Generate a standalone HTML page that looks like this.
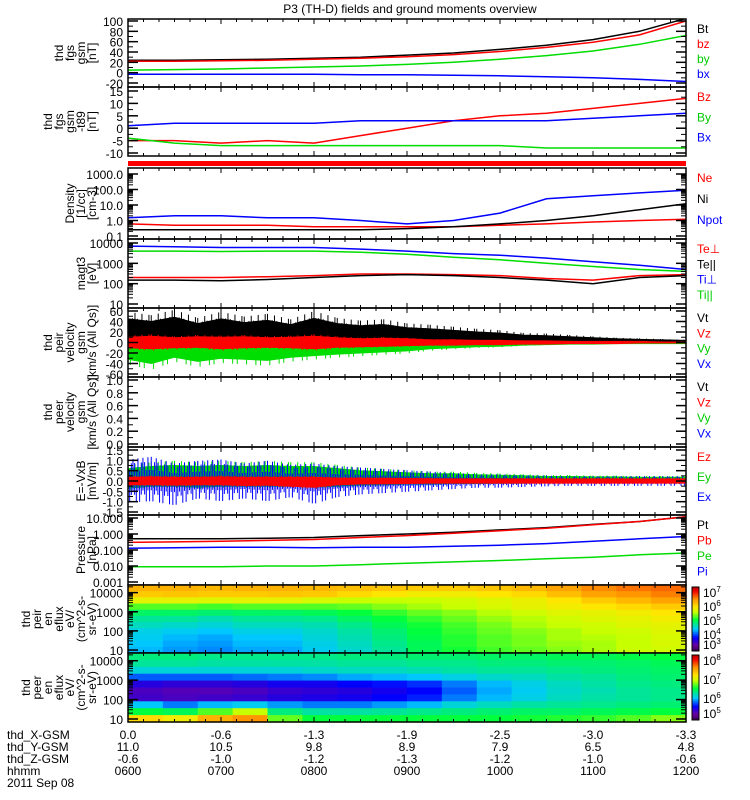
<!DOCTYPE html>
<html><head><meta charset="utf-8"><style>
html,body{margin:0;padding:0;background:#fff}
svg{display:block;font-family:"Liberation Sans",sans-serif}
text{font-size:12px}
</style></head><body>
<svg id="c" width="750" height="800" viewBox="0 0 750 800"></svg>
<script>
// ---------- data ----------
const hours=[6,6.5,7,7.5,8,8.5,9,9.5,10,10.5,11,11.5,12];
const btVals=[24,24,25,26,28,30,34,38,45,53,64,80,105];
const bzVals=[22,22,23,24,26,28,31,35,41,49,59,73,100];
const byVals=[5,6,7,9,11,13,16,20,26,33,42,55,72];
const bxVals=[-3,-3,-3,-3,-3,-4,-4,-5,-6,-8,-10,-13,-17];
const dBz=[-5,-5,-6,-5,-6,-3,0,3,5,6,8,10,12];
const dBy=[-4,-6,-7,-7,-7,-7,-7,-7,-7,-8,-8,-8,-8];
const dBx=[1,2,2,2,2,3,3,3,3,3,4,5,6];
const neVals=[0.6,0.5,0.5,0.5,0.4,0.4,0.4,0.4,0.5,0.6,0.8,1.0,1.2];
const niVals=[0.25,0.25,0.25,0.25,0.25,0.25,0.3,0.4,0.6,1,2,5,12];
const npotVals=[1.5,2,2,1.5,1.5,1.0,0.6,1,3,25,40,60,90];
const tePerp=[7000,6500,6000,6000,6000,5000,4000,3000,2500,1800,1200,800,500];
const tePar=[4000,4000,3800,4000,4000,3500,2800,2000,1500,1000,700,500,400];
const tiPerp=[200,200,200,220,250,300,300,280,250,180,150,250,280];
const tiPar=[150,150,140,160,200,250,280,250,200,150,100,200,250];
const ptVals=[0.5,0.5,0.5,0.55,0.6,0.8,1.0,1.3,1.8,2.5,4,6,12];
const pbVals=[0.3,0.32,0.35,0.4,0.45,0.6,0.8,1.1,1.6,2.3,3.8,6,12];
const peVals=[0.13,0.14,0.15,0.15,0.14,0.15,0.15,0.17,0.2,0.25,0.35,0.5,0.7];
const piVals=[0.009,0.009,0.009,0.01,0.01,0.012,0.015,0.018,0.022,0.028,0.035,0.05,0.065];
const bandTimes=[6,6.25,6.5,6.75,7,7.25,7.5,7.75,8,8.25,8.5,8.75,9,9.25,9.5,9.75,10,10.25,10.5,10.75,11,11.25,11.5,11.75,12];
const vtHi=[45,40,48,36,45,38,42,34,46,36,32,34,28,26,23,20,18,14,13,11,9,7,6,5,4];
const vtLo=[5,3,5,4,5,4,5,4,4,3,3,3,2,2,2,2,2,1,1,1,1,0,0,0,0];
const vzHi=[10,12,9,11,10,11,9,10,12,9,7,8,7,5,5,4,4,3,3,2,2,2,2,1,1];
const vzLo=[-10,-12,-10,-9,-12,-10,-9,-10,-12,-9,-8,-7,-6,-5,-5,-4,-4,-3,-3,-2,-2,-2,-1,-1,-1];
const vyHi=[8,10,7,8,8,7,7,6,7,5,5,4,4,3,3,3,3,2,2,2,1,1,1,1,1];
const vyLo=[-32,-40,-28,-36,-30,-32,-34,-28,-25,-22,-20,-18,-16,-12,-10,-8,-7,-5,-4,-3,-3,-2,-2,-2,-2];
const eyHi=[0.6,0.7,0.75,0.7,0.75,0.7,0.75,0.7,0.7,0.6,0.5,0.45,0.4,0.35,0.35,0.3,0.28,0.25,0.22,0.22,0.2,0.2,0.18,0.18,0.18];
const eyLo=[-0.35,-0.25,-0.25,-0.3,-0.25,-0.25,-0.25,-0.25,-0.3,-0.25,-0.2,-0.18,-0.15,-0.15,-0.12,-0.12,-0.1,-0.1,-0.08,-0.08,-0.08,-0.05,-0.05,-0.05,-0.05];
const exHi=[0.8,0.9,0.65,0.75,0.8,0.65,0.75,0.6,0.65,0.55,0.5,0.45,0.4,0.35,0.3,0.25,0.25,0.22,0.2,0.18,0.18,0.18,0.18,0.18,0.18];
const exLo=[-0.8,-0.75,-0.9,-0.65,-0.75,-0.65,-0.75,-0.6,-0.85,-0.6,-0.5,-0.45,-0.4,-0.35,-0.3,-0.25,-0.25,-0.22,-0.2,-0.18,-0.18,-0.18,-0.18,-0.18,-0.18];
const ezHi=[0.18,0.2,0.18,0.18,0.2,0.18,0.18,0.18,0.18,0.14,0.14,0.13,0.12,0.11,0.1,0.1,0.1,0.1,0.1,0.1,0.1,0.1,0.1,0.1,0.1];
const ezLo=[-0.18,-0.18,-0.2,-0.18,-0.18,-0.22,-0.2,-0.25,-0.3,-0.18,-0.14,-0.13,-0.12,-0.1,-0.1,-0.1,-0.1,-0.1,-0.1,-0.1,-0.1,-0.1,-0.1,-0.1,-0.1];
// spectrogram cells: rows high energy -> low energy, 16 time columns, normalized 0..1
const ionSpec=[
[0.78,0.78,0.77,0.78,0.78,0.77,0.76,0.75,0.74,0.74,0.75,0.77,0.8,0.83,0.85,0.86],
[0.74,0.75,0.74,0.74,0.75,0.74,0.72,0.7,0.68,0.68,0.7,0.72,0.76,0.8,0.82,0.84],
[0.66,0.66,0.65,0.66,0.66,0.64,0.62,0.62,0.62,0.63,0.65,0.67,0.7,0.74,0.77,0.8],
[0.55,0.55,0.54,0.55,0.55,0.55,0.56,0.58,0.6,0.62,0.64,0.66,0.68,0.7,0.72,0.74],
[0.47,0.47,0.46,0.47,0.47,0.48,0.5,0.53,0.56,0.58,0.61,0.63,0.65,0.66,0.68,0.7],
[0.43,0.43,0.41,0.43,0.43,0.44,0.47,0.5,0.53,0.56,0.59,0.61,0.63,0.65,0.66,0.68],
[0.4,0.39,0.38,0.4,0.4,0.41,0.44,0.48,0.51,0.54,0.57,0.6,0.62,0.63,0.65,0.66],
[0.37,0.36,0.35,0.37,0.37,0.39,0.42,0.46,0.5,0.53,0.56,0.58,0.6,0.62,0.63,0.65],
[0.36,0.34,0.33,0.35,0.35,0.38,0.41,0.45,0.49,0.52,0.55,0.57,0.6,0.61,0.62,0.64],
[0.35,0.33,0.32,0.34,0.34,0.37,0.4,0.44,0.48,0.52,0.55,0.57,0.59,0.6,0.62,0.64],
[0.34,0.32,0.31,0.33,0.33,0.36,0.39,0.43,0.48,0.51,0.54,0.56,0.58,0.6,0.62,0.63]];
const eleSpec=[
[0.45,0.45,0.44,0.44,0.44,0.44,0.45,0.45,0.46,0.46,0.47,0.47,0.48,0.48,0.49,0.5],
[0.43,0.43,0.42,0.42,0.42,0.42,0.43,0.43,0.44,0.44,0.45,0.45,0.46,0.46,0.47,0.48],
[0.38,0.38,0.38,0.38,0.38,0.39,0.4,0.4,0.41,0.42,0.43,0.43,0.44,0.45,0.46,0.47],
[0.28,0.28,0.28,0.29,0.3,0.31,0.33,0.34,0.35,0.37,0.39,0.4,0.42,0.43,0.45,0.46],
[0.18,0.17,0.17,0.18,0.2,0.2,0.22,0.23,0.25,0.3,0.34,0.37,0.4,0.42,0.44,0.45],
[0.14,0.13,0.13,0.14,0.16,0.17,0.18,0.2,0.22,0.28,0.33,0.36,0.39,0.41,0.43,0.44],
[0.15,0.14,0.15,0.16,0.18,0.19,0.2,0.22,0.24,0.3,0.34,0.37,0.4,0.42,0.43,0.44],
[0.35,0.3,0.34,0.36,0.32,0.3,0.3,0.32,0.34,0.38,0.4,0.42,0.43,0.44,0.45,0.46],
[0.5,0.48,0.55,0.62,0.45,0.42,0.42,0.43,0.44,0.45,0.46,0.47,0.47,0.48,0.49,0.5],
[0.72,0.68,0.78,0.82,0.56,0.5,0.5,0.5,0.5,0.5,0.5,0.51,0.52,0.53,0.55,0.58]];
const hourLabels=["0600","0700","0800","0900","1000","1100","1200"];
const xGsm=["0.0","-0.6","-1.3","-1.9","-2.5","-3.0","-3.3"];
const yGsm=["11.0","10.5","9.8","8.9","7.9","6.5","4.8"];
const zGsm=["-0.6","-1.0","-1.2","-1.3","-1.2","-1.0","-0.6"];

// ---------- helpers ----------
const NS="http://www.w3.org/2000/svg";
const svg=document.getElementById('c');
const X0=128,X1=686;
function el(tag,attrs,parent){const e=document.createElementNS(NS,tag);for(const k in attrs)e.setAttribute(k,attrs[k]);(parent||svg).appendChild(e);return e;}
function xs(t){return X0+(t-6)/6*(X1-X0);}
function linScale(lo,hi,top,bot){return v=>bot-(v-lo)/(hi-lo)*(bot-top);}
function logScale(lo,hi,top,bot){return v=>bot-(Math.log10(v)-Math.log10(lo))/(Math.log10(hi)-Math.log10(lo))*(bot-top);}
function txt(s,x,y,attrs,parent){const t=el('text',Object.assign({x:x,y:y},attrs||{}),parent);t.textContent=s;return t;}
const defs=el('defs',{});
let clipN=0;
function clipFor(p){const id='cl'+(clipN++);const cp=el('clipPath',{id:id},defs);el('rect',{x:X0,y:p.top,width:X1-X0,height:p.bot-p.top},cp);return 'url(#'+id+')';}

const panels=[
 {top:19,bot:87},{top:87,bot:156},{top:168,bot:239},{top:239,bot:308},{top:308,bot:377},
 {top:377,bot:447},{top:447,bot:515},{top:515,bot:585},{top:585,bot:653},{top:653,bot:722}];

function frame(p,name){
 const g=el('g',{},svg);
 
 
 el('rect',{x:X0,y:p.top,width:X1-X0,height:p.bot-p.top,fill:'none',stroke:'#000','stroke-width':1.5},g);
 for(let m=0;m<=36;m++){const x=xs(6+m/6);const L=(m%6==0)?5:3;
  el('line',{x1:x,y1:p.top,x2:x,y2:p.top+L,stroke:'#000'},g);
  el('line',{x1:x,y1:p.bot,x2:x,y2:p.bot-L,stroke:'#000'},g);}
 return g;
}
function yTicks(g,ys,majors,minors,labels,p){
 majors.forEach((v,i)=>{const y=ys(v);if(y<p.top-2||y>p.bot+2)return;
  el('line',{x1:X0,y1:y,x2:X0+10,y2:y,stroke:'#000','stroke-width':1.5},g);
  el('line',{x1:X1,y1:y,x2:X1-10,y2:y,stroke:'#000','stroke-width':1.5},g);
  const t=txt(labels[i],123,y+5,{'text-anchor':'end','font-size':'13'},g);
  
  });
 minors.forEach(v=>{const y=ys(v);if(y<p.top||y>p.bot)return;
  el('line',{x1:X0,y1:y,x2:X0+5,y2:y,stroke:'#000'},g);
  el('line',{x1:X1,y1:y,x2:X1-5,y2:y,stroke:'#000'},g);});
}
function logMinors(lo,hi){const r=[];for(let d=lo;d<hi*0.99;d*=10)for(let k=2;k<10;k++)r.push(d*k);return r;}
function line(vals,ys,color,name,p){
 const pts=vals.map((v,i)=>xs(hours[i]).toFixed(1)+','+ys(v).toFixed(1)).join(' ');
 const l=el('polyline',{points:pts,fill:'none',stroke:color,'stroke-width':1.5,'clip-path':clipFor(p)});
 
 
}
function band(hi,lo,ys,color,name,p,spikesOnly){
 const g=el('g',{'clip-path':clipFor(p)});
 
 
 if(!spikesOnly){
  const a=hi.map((v,i)=>xs(bandTimes[i]).toFixed(1)+','+ys(v).toFixed(1));
  const b=lo.map((v,i)=>xs(bandTimes[i]).toFixed(1)+','+ys(v).toFixed(1)).reverse();
  el('polygon',{points:a.concat(b).join(' '),fill:color,stroke:color,'stroke-width':1},g);
 }
 const n=spikesOnly?14:10;
 for(let i=0;i<bandTimes.length-1;i++){for(let k=0;k<n;k++){const f=k/n;const t=bandTimes[i]+f*0.25;
  const h=hi[i]+(hi[i+1]-hi[i])*f, l=lo[i]+(lo[i+1]-lo[i])*f; const s=(k%3==0)?1.3:(k%2?0.6:1.05);
  el('line',{x1:xs(t),y1:ys(h*s),x2:xs(t),y2:ys(l*(1.9-s)),stroke:color,'stroke-width':1},g);}}
}
function sideLabels(p,items){items.forEach((it,i)=>{const y=p.top+14+i*((p.bot-p.top-8)/items.length);
 const t=txt(it[0],697,y,{fill:it[1],'font-size':'12'});
 
 });}
function leftLabel(p,lines){const cy=(p.top+p.bot)/2;const n=lines.length;
 lines.forEach((s,i)=>{const x=96-(n-1-i)*11;
  const t=txt(s,x,cy,{'text-anchor':'middle','font-size':'12',transform:'rotate(-90 '+x+' '+cy+')'});
  
  });}
function rainbow(v){v=Math.max(0,Math.min(1,v));
 const st=[[0,[40,0,60]],[0.1,[110,0,160]],[0.22,[0,0,255]],[0.35,[0,200,255]],[0.5,[0,255,60]],[0.62,[200,255,0]],[0.7,[255,230,0]],[0.82,[255,150,0]],[0.95,[240,0,0]],[1,[200,0,0]]];
 for(let i=1;i<st.length;i++)if(v<=st[i][0]){const a=st[i-1],b=st[i],f=(v-a[0])/(b[0]-a[0]);
  return 'rgb('+a[1].map((c,j)=>Math.round(c+(b[1][j]-c)*f)).join(',')+')';}
 return 'rgb(200,0,0)';}

const ti=txt('P3 (TH-D) fields and ground moments overview',410,13,{'text-anchor':'middle','font-size':'13'});



{const p=panels[0];const ys=linScale(-20,100,21,83);
 line(btVals,ys,'#000','bt-line',p);line(bzVals,ys,'#f00','bz-line',p);line(byVals,ys,'#0d0','by-line',p);line(bxVals,ys,'#00f','bx-line',p);
 const g=frame(p,'fgs-gsm');yTicks(g,ys,[-20,0,20,40,60,80,100],[-10,10,30,50,70,90],['-20','0','20','40','60','80','100'],p);
 sideLabels(p,[['Bt','#000'],['bz','#f00'],['by','#0c0'],['bx','#00f']]);leftLabel(p,['thd','fgs','gsm','[nT]']);}
{const p=panels[1];const ys=linScale(-10,15,91,153);
 line(dBz,ys,'#f00','dbz-line',p);line(dBy,ys,'#0d0','dby-line',p);line(dBx,ys,'#00f','dbx-line',p);
 const g=frame(p,'fgs-t89');yTicks(g,ys,[-10,-5,0,5,10,15],[-7.5,-2.5,2.5,7.5,12.5],['-10','-5','0','5','10','15'],p);
 sideLabels(p,[['Bz','#f00'],['By','#0c0'],['Bx','#00f']]);leftLabel(p,['thd','fgs','gsm','-t89','[nT]']);}
{const r=el('rect',{x:X0,y:161,width:X1-X0,height:5,fill:'#f00'});}
{const p=panels[2];const ys=logScale(0.1,1000,174,236);
 line(neVals,ys,'#f00','ne-line',p);line(niVals,ys,'#000','ni-line',p);line(npotVals,ys,'#00f','npot-line',p);
 const g=frame(p,'density');yTicks(g,ys,[0.1,1,10,100,1000],logMinors(0.1,1000),['0.1','1.0','10.0','100.0','1000.0'],p);
 sideLabels(p,[['Ne','#f00'],['Ni','#000'],['Npot','#00f']]);leftLabel(p,['Density','[1/cc]','[cm-3]']);}
{const p=panels[3];const ys=logScale(10,10000,243,304);
 line(tePerp,ys,'#00f','te-perp-line',p);line(tePar,ys,'#0d0','te-par-line',p);line(tiPerp,ys,'#f00','ti-perp-line',p);line(tiPar,ys,'#000','ti-par-line',p);
 const g=frame(p,'temperature');yTicks(g,ys,[10,100,1000,10000],logMinors(10,10000),['10','100','1000','10000'],p);
 sideLabels(p,[['Te⊥','#f00'],['Te||','#000'],['Ti⊥','#00f'],['Ti||','#0c0']]);leftLabel(p,['magt3','[eV]']);}
{const p=panels[4];const ys=linScale(-60,60,311,374);
 band(vtHi,vtLo,ys,'#000','vt-band',p);band(vyHi,vyLo,ys,'#0d0','vy-band',p);band(vzHi,vzLo,ys,'#f00','vz-band',p);
 const g=frame(p,'peir-velocity');yTicks(g,ys,[-60,-40,-20,0,20,40,60],[-50,-30,-10,10,30,50],['-60','-40','-20','0','20','40','60'],p);
 sideLabels(p,[['Vt','#000'],['Vz','#f00'],['Vy','#0c0'],['Vx','#00f']]);leftLabel(p,['thd','peir','velocity','gsm','[km/s (All Qs)]']);}
{const p=panels[5];const ys=linScale(0,1,380,444);
 const g=frame(p,'peer-velocity');yTicks(g,ys,[0,0.2,0.4,0.6,0.8,1],[0.1,0.3,0.5,0.7,0.9],['0.0','0.2','0.4','0.6','0.8','1.0'],p);
 sideLabels(p,[['Vt','#000'],['Vz','#f00'],['Vy','#0c0'],['Vx','#00f']]);leftLabel(p,['thd','peer','velocity','gsm','[km/s (All Qs)]']);}
{const p=panels[6];const ys=linScale(-1.5,1.5,450,512);
 band(eyHi,eyLo,ys,'#0d0','ey-band',p);band(exHi,exLo,ys,'#00f','ex-band',p,true);band(ezHi,ezLo,ys,'#f00','ez-band',p);
 const g=frame(p,'efield');yTicks(g,ys,[-1.5,-1,-0.5,0,0.5,1,1.5],[-1.25,-0.75,-0.25,0.25,0.75,1.25],['-1.5','-1.0','-0.5','0.0','0.5','1.0','1.5'],p);
 sideLabels(p,[['Ez','#f00'],['Ey','#0c0'],['Ex','#00f']]);leftLabel(p,['E=-VxB','[mV/m]']);}
{const p=panels[7];const ys=logScale(0.001,10,518,582);
 line(ptVals,ys,'#000','pt-line',p);line(pbVals,ys,'#f00','pb-line',p);line(peVals,ys,'#00f','pe-line',p);line(piVals,ys,'#0d0','pi-line',p);
 const g=frame(p,'pressure');yTicks(g,ys,[0.001,0.01,0.1,1,10],logMinors(0.001,10),['0.001','0.010','0.100','1.000','10.000'],p);
 sideLabels(p,[['Pt','#000'],['Pb','#f00'],['Pe','#0c0'],['Pi','#00f']]);leftLabel(p,['Pressure','[nPa]']);}
function spectro(p,data,name,eMin,eMax,labels,cbLabels){
 const ys=logScale(eMin,eMax,p.top,p.bot);const nr=data.length,nc=data[0].length;
 const rh=(p.bot-p.top)/nr,cw=(X1-X0)/nc;
 const g=el('g',{});
 data.forEach((row,r)=>row.forEach((v,c)=>{el('rect',{x:X0+c*cw,y:p.top+r*rh,width:cw+0.6,height:rh+0.6,fill:rainbow(v)},g);}));
 const fg=frame(p,name);
 yTicks(fg,ys,[10,100,1000,10000],logMinors(10,eMax),labels,p);
 const cb=el('g',{});
 for(let i=0;i<34;i++){const v=1-i/34;el('rect',{x:692,y:p.top+2+i*((p.bot-p.top-4)/34),width:7,height:(p.bot-p.top-4)/34+0.5,fill:rainbow(v)},cb);}
 el('rect',{x:692,y:p.top+2,width:7,height:p.bot-p.top-4,fill:'none',stroke:'#000'},cb);
 cbLabels.forEach((s,i)=>{const y=p.top+12+i*((p.bot-p.top-12)/(cbLabels.length-1))-(i==cbLabels.length-1?4:0);
  const t=txt('10',703,y,{'font-size':'12'},cb);const ts=el('tspan',{dy:'-5','font-size':'8'},t);ts.textContent=s;});
}
spectro(panels[8],ionSpec,'ion-spectrogram',7,25000,['10','100','1000','10000'],['7','6','5','4','3']);
leftLabel(panels[8],['thd','peir','en','eflux','eV/','(cm^2-s-','sr-eV)']);
spectro(panels[9],eleSpec,'electron-spectrogram',7,25000,['10','100','1000','10000'],['8','7','6','5']);
leftLabel(panels[9],['thd','peer','en','eflux','eV/','(cm^2-s-','sr-eV)']);

const rows=[['thd_X-GSM',xGsm],['thd_Y-GSM',yGsm],['thd_Z-GSM',zGsm],['hhmm',hourLabels]];
rows.forEach((r,i)=>{const y=739+i*12;
 const t=txt(r[0],7,y,{'font-size':'12'});
 r[1].forEach((s,k)=>{const v=txt(s,xs(6+k),y,{'text-anchor':'middle','font-size':'12'});
  });});
const dt=txt('2011 Sep 08',7,787,{'font-size':'12'});
</script>
</body></html>
